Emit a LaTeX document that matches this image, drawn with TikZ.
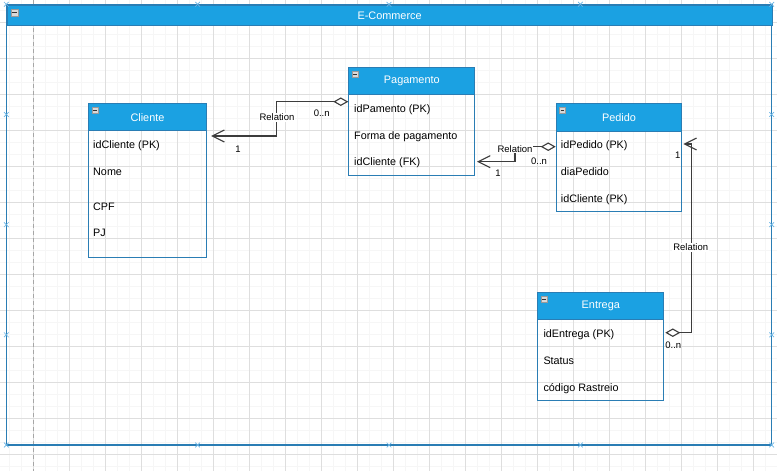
\documentclass[tikz,border=0pt]{standalone}
\usepackage{fontspec}
\setmainfont{Liberation Sans}
\usetikzlibrary{arrows.meta,calc,shapes.misc}

\definecolor{hdrblue}{RGB}{27,161,226}
\definecolor{edgeblue}{RGB}{42,125,180}
\definecolor{linegray}{RGB}{60,60,60}
\definecolor{gridmajor}{RGB}{222,222,222}
\definecolor{gridminor}{RGB}{246,246,246}
\definecolor{markblue}{RGB}{105,180,228}

\tikzset{
  gridthin/.style={draw=gridminor, line width=0.6},
  gridthick/.style={draw=gridmajor, line width=0.6},
  guideline/.style={draw=black!35, line width=0.7, dash pattern=on 4pt off 3pt},
  frameedge/.style={draw=edgeblue, line width=1.2},
  framehdr/.style={draw=edgeblue, fill=hdrblue, line width=1.2, inner sep=0},
  framemark/.style={cross out, draw=markblue, line width=0.7, minimum size=4, inner sep=0},
  enthdr/.style={draw=edgeblue, fill=hdrblue, line width=1, inner sep=0,
    text=white, font=\fontsize{10.9}{13}\selectfont},
  entbody/.style={draw=edgeblue, line width=1, inner sep=0},
  minusbox/.style={draw=black!40, fill=black!15, line width=0.4, minimum size=6.2, inner sep=0,
    path picture={\draw[black!80, line width=1.1]
      ($(path picture bounding box.west)+(1.2,0)$) -- ($(path picture bounding box.east)+(-1.2,0)$);}},
  attr/.style={anchor=west, inner sep=0, text height=7.7, text depth=0,
    font=\fontsize{10.8}{13}\selectfont},
  rellabel/.style={inner sep=0.8, text height=6.8, text depth=0,
    font=\fontsize{9.5}{11}\selectfont},
  relname/.style={rellabel, fill=white},
  rel/.style={draw=linegray, line width=1.1,
    {Diamond[fill=white, length=15, width=8.5]}-{Straight Barb[length=12, width=12]}},
}

% entity: name, left, top, right, header bottom, bottom, title
\newcommand\erentity[7]{%
  \node[enthdr, anchor=north west, minimum width={#4-#2}, minimum height={#5-#3}] (#1-h) at (#2,#3) {#7};
  \node[entbody, anchor=north west, minimum width={#4-#2}, minimum height={#6-#5}] (#1-b) at (#2,#5) {};
  \node[minusbox] (#1-i) at ($(#1-h.north west)+(6.8,7.1)$) {};
}

\begin{document}
\begin{tikzpicture}[x=1pt,y=-1pt]
\useasboundingbox (0,0) rectangle (777,471);

% background grid
\begin{scope}
  \clip (0,0) rectangle (777,471);
  \foreach \gx in {-2.5,9.5,...,790} \draw[gridthin] (\gx,0) -- (\gx,471);
  \foreach \gy in {-2,10,...,480} \draw[gridthin] (0,\gy) -- (777,\gy);
  \foreach \gx in {-2.5,33.5,...,790} \draw[gridthick] (\gx,0) -- (\gx,471);
  \foreach \gy in {22,58,...,480} \draw[gridthick] (0,\gy) -- (777,\gy);
  \draw[guideline] (33.5,0) -- (33.5,471);
\end{scope}

% container
\draw[frameedge] (6.3,25) -- (6.3,445) -- (771.7,445) -- (771.7,25);
\node[framehdr, anchor=north west, minimum width=765.4, minimum height=20.7] (frame) at (6.3,4.3) {};
\node[enthdr, draw=none, fill=none] (frametitle) at (frame.center) {E-Commerce};
\node[minusbox, minimum size=6.8] (frameicon) at (14.5,12.5) {};

% resize handles on the container
\foreach \mx [count=\i] in {6.3,197.65,389,580.35,771.7} {
  \node[framemark] (mt\i) at (\mx,4.3) {};
  \node[framemark] (mb\i) at (\mx,445) {};
}
\foreach \my [count=\i] in {114.5,224.7,334.8} {
  \node[framemark] (ml\i) at (6.3,\my) {};
  \node[framemark] (mr\i) at (771.7,\my) {};
}

% entities
\erentity{cli}{88.3}{103.3}{205.7}{130}{256.7}{Cliente}
\node[attr] (cli-a1) at (93,145) {idCliente (PK)};
\node[attr] (cli-a2) at (93,171.7) {Nome};
\node[attr] (cli-a3) at (93,207) {CPF};
\node[attr] (cli-a4) at (93,232.5) {PJ};

\erentity{pag}{348.3}{67.3}{474.3}{94.3}{175}{Pagamento}
\node[attr] (pag-a1) at (354,108.3) {idPamento (PK)};
\node[attr] (pag-a2) at (354,135.3) {Forma de pagamento};
\node[attr] (pag-a3) at (354,161.7) {idCliente (FK)};

\erentity{ped}{555.7}{103.3}{681.3}{130.7}{211}{Pedido}
\node[attr] (ped-a1) at (560.7,144.3) {idPedido (PK)};
\node[attr] (ped-a2) at (560.7,171.3) {diaPedido};
\node[attr] (ped-a3) at (560.7,198.3) {idCliente (PK)};

\erentity{ent}{537.3}{292.3}{663.3}{319.3}{400}{Entrega}
\node[attr] (ent-a1) at (543.3,334) {idEntrega (PK)};
\node[attr] (ent-a2) at (543.3,360.3) {Status};
\node[attr] (ent-a3) at (543.3,387.7) {código Rastreio};

% attachment points on the entity borders
\coordinate (pagW) at ($(pag-b.north west)+(0,7.4)$);
\coordinate (cliE) at ($(cli-b.north east)+(4.5,6)$);
\coordinate (pedW) at ($(ped-b.north west)+(0,16)$);
\coordinate (pagE) at ($(pag-b.north east)+(1.7,67.4)$);
\coordinate (entE) at ($(ent-b.north east)+(1,13.4)$);
\coordinate (pedE) at ($(ped-b.north east)+(1,13.3)$);

% relations
\draw[rel] (pagW) -- ++(-71.6,0) |- (cliE);
\draw[rel] (pedW) -- ++(-40.7,0) |- (pagE);
\draw[rel] (entE) -- ++(26.4,0) |- (pedE);

% relation labels
\node[relname] (r1) at (277,117.5) {Relation};
\node[rellabel] (r1m) at (321.7,113) {0..n};
\node[rellabel] (r1o) at (238,149) {1};

\node[relname] (r2) at (515,149) {Relation};
\node[rellabel] (r2m) at (539,161.5) {0..n};
\node[rellabel] (r2o) at (498,173.5) {1};

\node[relname] (r3) at (690.7,247.3) {Relation};
\node[rellabel] (r3m) at (673.3,345) {0..n};
\node[rellabel] (r3o) at (677.7,155) {1};
\end{tikzpicture}
\end{document}
